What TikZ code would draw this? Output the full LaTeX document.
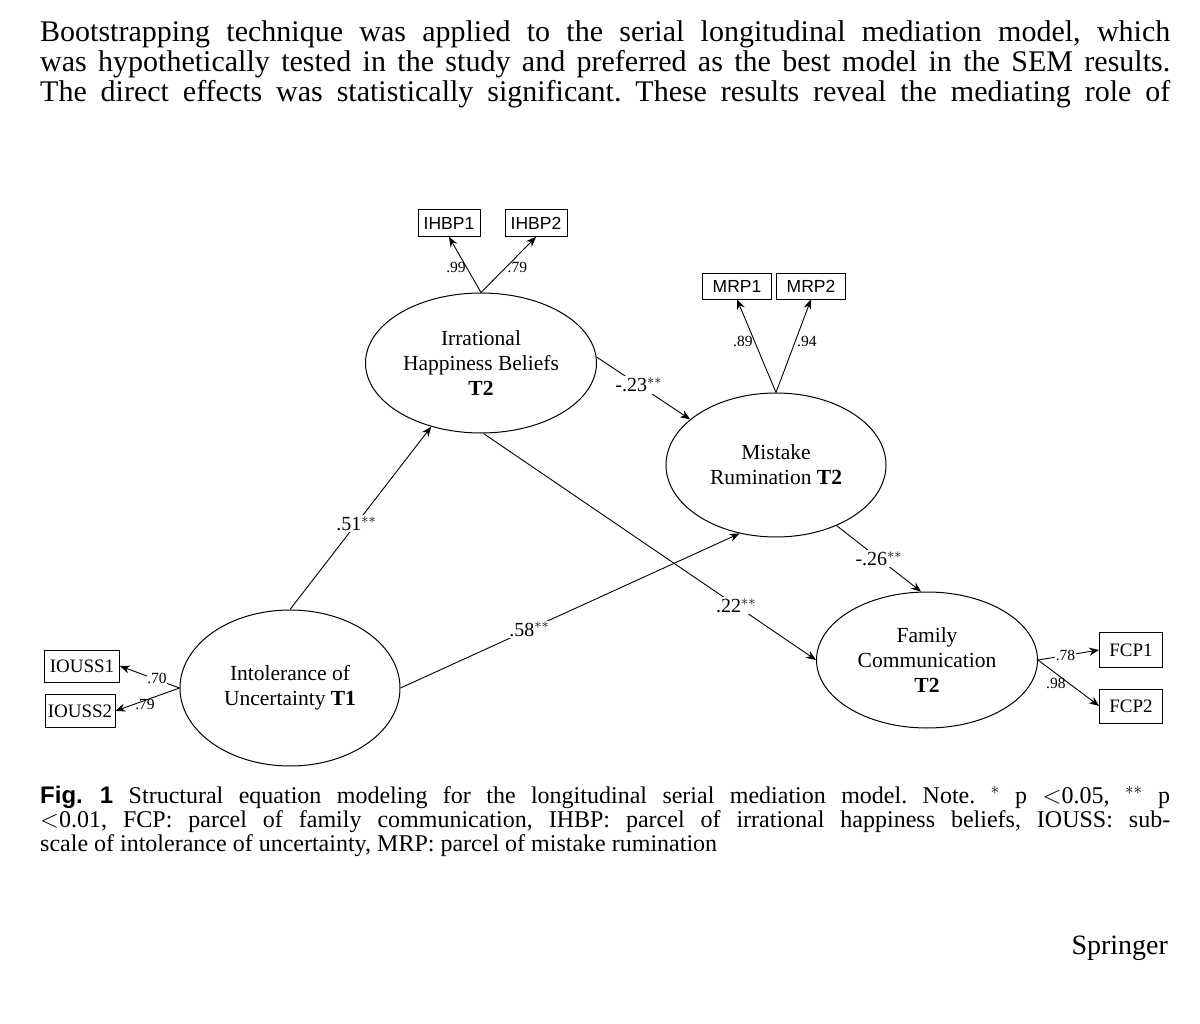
\documentclass[tikz,border=0pt]{standalone}
\usepackage{fontspec}
\setmainfont{Liberation Serif}
\newfontfamily\sansf{Liberation Sans}
\usetikzlibrary{shapes.geometric,arrows.meta}
\begin{document}
\frenchspacing
\begin{tikzpicture}[x=1pt,y=-1pt,
 lat/.style={draw,ellipse,line width=1pt,inner sep=0pt,align=center,font=\fontsize{21.5}{25}\selectfont},
 obs/.style={draw,line width=0.8pt,inner sep=0pt,font=\fontsize{19}{21}\selectfont},
 obss/.style={obs,font=\sansf\fontsize{17.5}{20}\selectfont},
 ar/.style={line width=0.9pt,-{Stealth[length=10pt,width=8pt]}},
 lab/.style={fill=white,inner sep=1.5pt,font=\fontsize{20}{22}\selectfont},
 sl/.style={inner sep=0.5pt,font=\fontsize{15.5}{17}\selectfont}]
\useasboundingbox (0,0) rectangle (1200,1024);
\node[anchor=north west,text width=1130pt,align=justify,inner sep=0pt,font=\fontsize{30}{30}\selectfont] (body) at (40,20)
{Bootstrapping technique was applied to the serial longitudinal mediation model, which\linebreak was hypothetically tested in the study and preferred as the best model in the SEM results.\linebreak The direct effects was statistically significant. These results reveal the mediating role of\linebreak};
\node[anchor=north west,text width=1130pt,align=justify,inner sep=0pt,font=\fontsize{24}{24}\selectfont] (cap) at (40,786)
{{\sansf\bfseries Fig.~1}~Structural equation modeling for the longitudinal serial mediation model. Note. $^{*}$ p $<$0.05, $^{**}$ p\linebreak $<$0.01, FCP: parcel of family communication, IHBP: parcel of irrational happiness beliefs, IOUSS: sub-\linebreak scale of intolerance of uncertainty, MRP: parcel of mistake rumination\par};
\node[anchor=west,font=\fontsize{28}{30}\selectfont] (spr) at (1068,948) {Springer};

\node[lat,minimum width=231pt,minimum height=140pt] (ihb) at (481,363) {Irrational\\Happiness Beliefs\\\textbf{T2}};
\node[lat,minimum width=220pt,minimum height=144pt] (mr) at (776,465) {Mistake\\Rumination \textbf{T2}};
\node[lat,minimum width=220pt,minimum height=156pt] (iou) at (290,688) {Intolerance of\\Uncertainty \textbf{T1}};
\node[lat,minimum width=221pt,minimum height=136pt] (fc) at (927,660) {Family\\Communication\\\textbf{T2}};

\node[obss,minimum width=62pt,minimum height=27pt] (ihbp1) at (449,223) {IHBP1};
\node[obss,minimum width=62pt,minimum height=27pt] (ihbp2) at (536,223) {IHBP2};
\node[obss,minimum width=69pt,minimum height=26pt] (mrp1) at (737,286) {MRP1};
\node[obss,minimum width=69pt,minimum height=26pt] (mrp2) at (811,286) {MRP2};
\node[obs,minimum width=75pt,minimum height=32pt] (i1) at (82,666) {IOUSS1};
\node[obs,minimum width=70pt,minimum height=33pt] (i2) at (80,711) {IOUSS2};
\node[obs,minimum width=63pt,minimum height=35pt] (f1) at (1131,650) {FCP1};
\node[obs,minimum width=63pt,minimum height=34pt] (f2) at (1131,706) {FCP2};

\coordinate (ihbt) at (ihb.north);
\draw[ar] (ihbt) -- node[sl,pos=0.45,left]{.99} (ihbp1.south);
\draw[ar] (ihbt) -- node[sl,pos=0.45,right=1pt]{.79} (ihbp2.south);
\coordinate (mrt) at (mr.north);
\draw[ar] (mrt) -- node[sl,pos=0.55,left=1pt]{.89} (mrp1.south);
\draw[ar] (mrt) -- node[sl,pos=0.55,right=1pt]{.94} (mrp2.south);
\coordinate (ioul) at (iou.west);
\draw[ar] (ioul) -- (i1.east);
\draw[ar] (ioul) -- (i2.east);
\node[sl,fill=white] (l70) at (157,678) {.70};
\node[sl] (l79) at (145,704) {.79};
\coordinate (fcr) at (fc.east);
\draw[ar] (fcr) -- node[sl,pos=0.45,fill=white]{.78} (f1.west);
\draw[ar] (fcr) -- node[sl,pos=0.5,left=2pt]{.98} (f2.west);

\draw[ar] (iou.north) -- node[lab,pos=0.47]{.51$^{**}$} (ihb.-128);
\draw[ar] (iou.east) -- node[lab,pos=0.38]{.58$^{**}$} (mr.-118);
\draw[ar] (ihb.-88) -- node[lab,pos=0.76]{.22$^{**}$} (fc.west);
\draw[ar] (ihb.3) -- node[lab,pos=0.45]{-.23$^{**}$} (mr.152);
\draw[ar] (mr.-45) -- node[lab,pos=0.5]{-.26$^{**}$} (fc.95);
\end{tikzpicture}
\end{document}
